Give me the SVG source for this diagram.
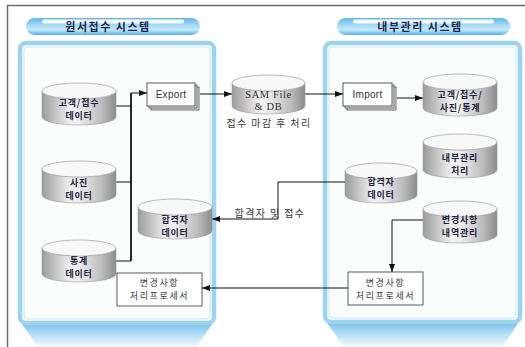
<svg xmlns="http://www.w3.org/2000/svg" width="525" height="347" viewBox="0 0 525 347">
<style>
.frame{fill:none;stroke:#6e6e6e;stroke-width:1.5}
.panel{fill:#fbfdfd;stroke:#9dd3ec;stroke-width:4.5}
.panelin{fill:none;stroke:#c9e9f6;stroke-width:1}
.hdr{fill:url(#pill)}
.hl{fill:#ffffff;opacity:0.95}
.htxt{font-family:"Noto Sans CJK KR","Noto Sans",sans-serif;font-size:11px;font-weight:bold;fill:#1c2650;text-anchor:middle;letter-spacing:1.5px}
.cylb{fill:url(#cylg);stroke:#9a9a9a;stroke-width:0.6}
.cylt{fill:#f8f8f8;stroke:#a8a8a8;stroke-width:0.8}
.ctxt{font-family:"Noto Sans CJK KR","Noto Sans",sans-serif;font-size:9px;font-weight:bold;fill:#1f2540;text-anchor:middle;letter-spacing:0.8px}
.box{fill:#ffffff;stroke:#333;stroke-width:0.8}
.page{fill:#e6e6e6;stroke:#333;stroke-width:0.7}
.btxt{font-family:"Noto Sans CJK KR","Noto Sans",sans-serif;font-size:9px;fill:#3a3a3a;text-anchor:middle;letter-spacing:1.6px}
.etxt{font-family:"Liberation Sans",Arial,sans-serif;font-size:10px;fill:#333;text-anchor:middle;letter-spacing:0.3px}
.stxt{font-family:"Liberation Serif","Times New Roman",serif;font-size:10.5px;fill:#333;text-anchor:middle;letter-spacing:0.6px}
.ltxt{font-family:"Noto Sans CJK KR","Noto Sans",sans-serif;font-size:10px;fill:#3a3a3a;text-anchor:middle;letter-spacing:1.4px}
.ln{fill:none;stroke:#111;stroke-width:1}
.lnb{fill:none;stroke:#111;stroke-width:1.8}
</style>
<defs>
<linearGradient id="pill" x1="0" y1="0" x2="0" y2="1">
<stop offset="0" stop-color="#5fb8ec"/>
<stop offset="0.45" stop-color="#a9dcf6"/>
<stop offset="0.7" stop-color="#c6e9f9"/>
<stop offset="1" stop-color="#4fb0e8"/>
</linearGradient>
<linearGradient id="cylg" x1="0" y1="0" x2="1" y2="0">
<stop offset="0" stop-color="#9c9c9c"/>
<stop offset="0.38" stop-color="#f0f0f0"/>
<stop offset="0.5" stop-color="#eeeeee"/>
<stop offset="0.8" stop-color="#bdbdbd"/>
<stop offset="1" stop-color="#8c8c8c"/>
</linearGradient>
<linearGradient id="shad" x1="0" y1="0" x2="0" y2="1">
<stop offset="0" stop-color="#7cc2ee"/>
<stop offset="0.45" stop-color="#b6def6"/>
<stop offset="1" stop-color="#f4fafd"/>
</linearGradient>
<marker id="arr" viewBox="0 0 8 6" refX="8" refY="3" markerWidth="8" markerHeight="6" markerUnits="userSpaceOnUse" orient="auto">
<path d="M0,0 L8,3 L0,6 Z" fill="#111"/>
</marker>
</defs>

<rect x="0" y="0" width="525" height="347" fill="#ffffff"/>
<path class="frame" d="M7.5,347 V5.5 H525"/>

<g id="panel-left">
<polygon points="22,324 212,324 197,347 38,347" fill="url(#shad)"/>
<rect class="panel" x="20" y="43" width="194" height="280" rx="6"/>
<rect class="panelin" x="24" y="47" width="186" height="272" rx="4"/>
</g>
<g id="panel-right">
<polygon points="327,323 518,323 503,347 344,347" fill="url(#shad)"/>
<rect class="panel" x="325" y="43" width="195" height="279" rx="6"/>
<rect class="panelin" x="329" y="47" width="187" height="271" rx="4"/>
</g>

<g id="header-left">
<rect class="hdr" x="26" y="18" width="174" height="17" rx="8.5"/>
<rect class="hl" x="42" y="19.5" width="142" height="4" rx="2"/>
<text class="htxt" x="108" y="31">원서접수 시스템</text>
</g>
<g id="header-right">
<rect class="hdr" x="337" y="18" width="173" height="17" rx="8.5"/>
<rect class="hl" x="353" y="19.5" width="141" height="4" rx="2"/>
<text class="htxt" x="420" y="31">내부관리 시스템</text>
</g>

<g id="connectors">
<path class="ln" d="M116,106 H131"/>
<path class="ln" d="M116,182 H131"/>
<path class="ln" d="M116,261 H131"/>
<path class="lnb" d="M131,261 V93"/>
<path class="ln" d="M131,93 H147" marker-end="url(#arr)"/>
<path class="ln" d="M200,94 H232" marker-end="url(#arr)"/>
<path class="ln" d="M305,94 H343" marker-end="url(#arr)"/>
<path class="ln" d="M397,98 H423" marker-end="url(#arr)"/>
<path class="ln" d="M345,182 H278 V219 H212" marker-end="url(#arr)"/>
<path class="ln" d="M423,220 H392 V272" marker-end="url(#arr)"/>
<path class="ln" d="M348,288 H202" marker-end="url(#arr)"/>
<text class="ltxt" x="270" y="217">합격자 및 접수</text>
</g>

<g id="cyl-customer">
<path class="cylb" d="M42,91 A37,8 0 0 0 116,91 V117 A37,8 0 0 1 42,117 Z"/>
<ellipse class="cylt" cx="79" cy="91" rx="37" ry="8"/>
<text class="ctxt" x="79" y="105.5">고객/접수<tspan x="79" dy="13.2">데이터</tspan></text>
</g>
<g id="cyl-photo">
<path class="cylb" d="M42,169 A37,8 0 0 0 116,169 V195 A37,8 0 0 1 42,195 Z"/>
<ellipse class="cylt" cx="79" cy="169" rx="37" ry="8"/>
<text class="ctxt" x="79" y="185.5">사진<tspan x="79" dy="13.2">데이터</tspan></text>
</g>
<g id="cyl-stats">
<path class="cylb" d="M42,248 A37,8 0 0 0 116,248 V274 A37,8 0 0 1 42,274 Z"/>
<ellipse class="cylt" cx="79" cy="248" rx="37" ry="8"/>
<text class="ctxt" x="79" y="263.5">통계<tspan x="79" dy="13.2">데이터</tspan></text>
</g>
<g id="cyl-pass-left">
<path class="cylb" d="M138,207 A37,8 0 0 0 212,207 V231 A37,8 0 0 1 138,231 Z"/>
<ellipse class="cylt" cx="175" cy="207" rx="37" ry="8"/>
<text class="ctxt" x="175" y="222.5">합격자<tspan x="175" dy="13.2">데이터</tspan></text>
</g>

<g id="export">
<rect class="page" x="151" y="87" width="48" height="23"/>
<rect class="page" x="149" y="85" width="48" height="23"/>
<rect class="box" x="147" y="83" width="48" height="23"/>
<text class="etxt" x="171" y="98">Export</text>
</g>

<g id="cyl-sam">
<path class="cylb" d="M232,83 A36.5,8 0 0 0 305,83 V106 A36.5,8 0 0 1 232,106 Z"/>
<ellipse class="cylt" cx="268.5" cy="83" rx="36.5" ry="8"/>
<text class="stxt" x="268.5" y="97.5">SAM File<tspan x="268.5" dy="12.3">&amp; DB</tspan></text>
<text class="ltxt" x="269" y="127">접수 마감 후 처리</text>
</g>

<g id="import">
<rect class="page" x="347" y="87" width="49" height="23"/>
<rect class="page" x="345" y="85" width="49" height="23"/>
<rect class="box" x="343" y="83" width="49" height="23"/>
<text class="etxt" x="367.5" y="98">Import</text>
</g>

<g id="cyl-all">
<path class="cylb" d="M423,82 A37,8 0 0 0 497,82 V108 A37,8 0 0 1 423,108 Z"/>
<ellipse class="cylt" cx="460" cy="82" rx="37" ry="8"/>
<text class="ctxt" x="460" y="97.5">고객/접수/<tspan x="460" dy="13.2">사진/통계</tspan></text>
</g>
<g id="cyl-internal">
<path class="cylb" d="M423,142 A37,8 0 0 0 497,142 V170 A37,8 0 0 1 423,170 Z"/>
<ellipse class="cylt" cx="460" cy="142" rx="37" ry="8"/>
<text class="ctxt" x="460" y="160.5">내부관리<tspan x="460" dy="13.2">처리</tspan></text>
</g>
<g id="cyl-pass-right">
<path class="cylb" d="M345,171 A36,8 0 0 0 417,171 V195 A36,8 0 0 1 345,195 Z"/>
<ellipse class="cylt" cx="381" cy="171" rx="36" ry="8"/>
<text class="ctxt" x="381" y="184.5">합격자<tspan x="381" dy="13.2">데이터</tspan></text>
</g>
<g id="cyl-change">
<path class="cylb" d="M423,209 A37,8 0 0 0 497,209 V235 A37,8 0 0 1 423,235 Z"/>
<ellipse class="cylt" cx="460" cy="209" rx="37" ry="8"/>
<text class="ctxt" x="460" y="222.5">변경사항<tspan x="460" dy="13.2">내역관리</tspan></text>
</g>

<g id="proc-right">
<rect class="box" x="348" y="272" width="75" height="33"/>
<text class="btxt" x="385.5" y="285.5">변경사항<tspan x="385.5" dy="13.2">처리프로세서</tspan></text>
</g>
<g id="proc-left">
<rect class="box" x="117" y="273" width="85" height="33"/>
<text class="btxt" x="159.5" y="286">변경사항<tspan x="159.5" dy="13.2">처리프로세서</tspan></text>
</g>
</svg>
